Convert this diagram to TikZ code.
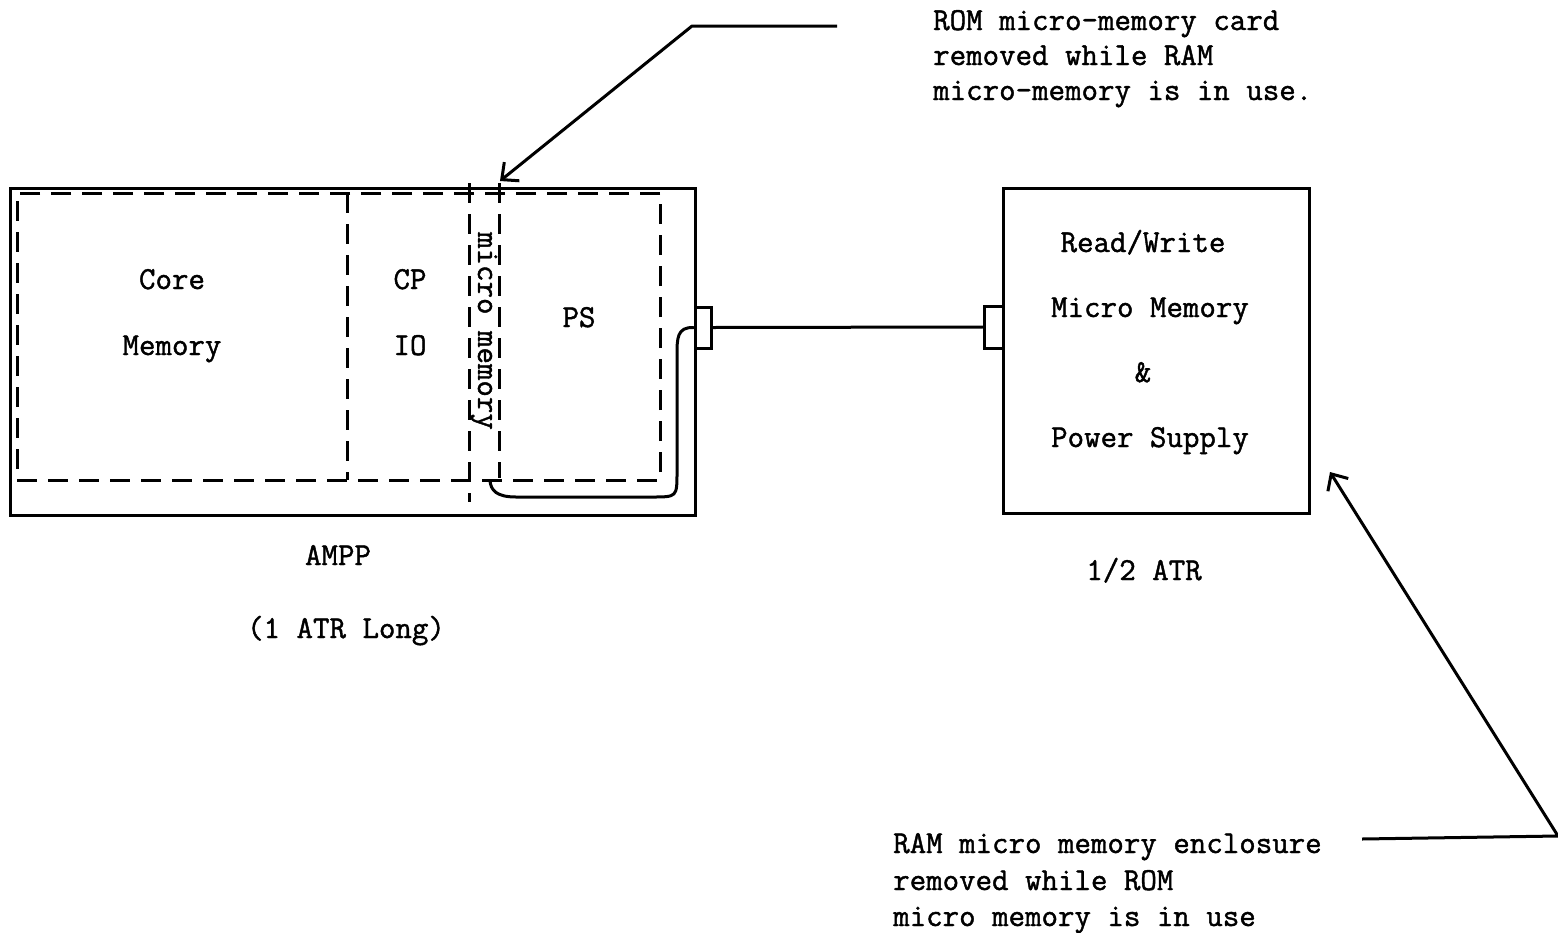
\documentclass[tikz,border=0pt]{standalone}
\usepackage{fontspec}
\setmonofont{Latin Modern Mono}[FakeBold=1.3]
\usetikzlibrary{arrows.meta}
\begin{document}
\begin{tikzpicture}[x=1pt,y=-1pt,
  solidbox/.style={draw,line width=3pt,inner sep=0pt},
  dashbox/.style={draw,line width=3pt,dash pattern=on 20pt off 11pt,inner sep=0pt},
  dashline/.style={line width=3pt,dash pattern=on 20pt off 11pt},
  wire/.style={line width=3pt,line join=round,line cap=round},
  lbl/.style={font=\ttfamily\fontsize{32}{38}\selectfont,inner sep=0pt,anchor=base},
  note/.style={font=\ttfamily\fontsize{32}{38}\selectfont,inner sep=0pt,anchor=base west},
  ptr/.style={line width=3pt,line join=round,-{Straight Barb[length=13pt,width=24pt,line width=3pt]}}]
\useasboundingbox (0,0) rectangle (1558,932);
\fill[white] (0,0) rectangle (1558,932);

% left enclosure (AMPP)
\node[solidbox,minimum width=685pt,minimum height=327pt] (ampp) at (352.5,351.5) {};
\node[dashbox,minimum width=643pt,minimum height=287pt] (inner) at (338.5,336.5) {};
\draw[dashline] (347,193) -- (347,480);
\draw[dashline] (469,183) -- (469,502);
\draw[dashline] (499,183) -- (499,478);

% connectors
\node[solidbox,minimum width=16pt,minimum height=41pt] (connL) at (703,327.5) {};
\node[solidbox,minimum width=19pt,minimum height=42pt] (connR) at (993.5,327) {};
\draw[wire] (connL.east) -- (connR.west);

% internal cable
\draw[wire] (connL.west) .. controls (677,327) and (677,338) .. (677,356)
  -- (677,472) .. controls (677,497) .. (652,497)
  -- (516,497) .. controls (496,497) and (491,490) .. (490,481);

% right enclosure
\node[solidbox,minimum width=306pt,minimum height=325pt] (rw) at (1156,350.5) {};

% labels in left box
\node[lbl] (core) at (172,289) {Core};
\node[lbl] (mem) at (172,355) {Memory};
\node[lbl] (cp) at (410,289) {CP};
\node[lbl] (io) at (410,355) {IO};
\node[font=\ttfamily\fontsize{32}{38}\selectfont,inner sep=0pt,rotate=-90] (mm) at (484,331) {micro memory};
\node[lbl] (ps) at (579,327) {PS};

% labels in right box
\node[lbl] (rwl) at (1143,252) {Read/Write};
\node[lbl] (mml) at (1150,317) {Micro Memory};
\node[lbl] (amp) at (1143,382) {\&};
\node[lbl] (psl) at (1150,447) {Power Supply};

% captions
\node[lbl] (amppl) at (338,565) {AMPP};
\node[lbl] (atrl) at (346,638) {(1 ATR Long)};
\node[lbl] (half) at (1144,580) {1/2 ATR};

% top note
\node[note] (n1) at (933,30) {ROM micro-memory card};
\node[note] (n2) at (933,65) {removed while RAM};
\node[note] (n3) at (933,100) {micro-memory is in use.};

% bottom note
\node[note] (b1) at (893,853) {RAM micro memory enclosure};
\node[note] (b2) at (893,890) {removed while ROM};
\node[note] (b3) at (893,926) {micro memory is in use};

% pointers
\coordinate (tstart) at (837,26);
\coordinate (tbend) at (692,26);
\coordinate (ttip) at (500,181);
\draw[ptr] (tstart) -- (tbend) -- (ttip);

\coordinate (bstart) at (1362,839);
\coordinate (bbend) at (1558,836);
\coordinate (btip) at (1330,472);
\draw[ptr] (bstart) -- (bbend) -- (btip);
\end{tikzpicture}
\end{document}
